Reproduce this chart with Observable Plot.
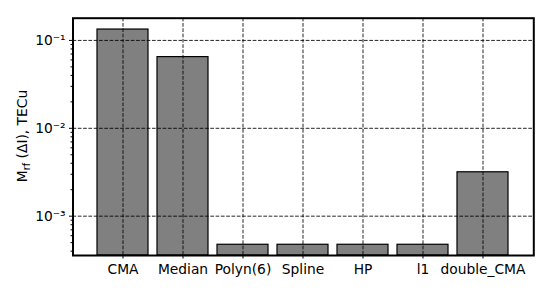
<!DOCTYPE html>
<html>
<head>
<meta charset="utf-8">
<script src="https://cdn.jsdelivr.net/npm/d3@7"></script>
<script src="https://cdn.jsdelivr.net/npm/@observablehq/plot@0.6"></script>
<style>
  html, body { margin: 0; padding: 0; background: #fff; }
  #chart { width: 550px; height: 292px; }
</style>
</head>
<body>
<div id="chart"></div>
<script>
const categories = ["CMA", "Median", "Polyn(6)", "Spline", "HP", "l1", "double_CMA"];
const values = [0.133, 0.0646, 0.000473, 0.000473, 0.000473, 0.000473, 0.00316];
const majorTicks = [1e-3, 1e-2, 1e-1];
const majorLabels = ["10\u207B\u00B3", "10\u207B\u00B2", "10\u207B\u00B9"];
const minorTicks = [4e-4, 5e-4, 6e-4, 7e-4, 8e-4, 9e-4,
  2e-3, 3e-3, 4e-3, 5e-3, 6e-3, 7e-3, 8e-3, 9e-3,
  2e-2, 3e-2, 4e-2, 5e-2, 6e-2, 7e-2, 8e-2, 9e-2];
const yDomain = [3.57e-4, 0.179];

const data = categories.map((c, i) => ({name: c, value: values[i]}));
const labelOf = new Map(majorTicks.map((t, i) => [t, majorLabels[i]]));

const W = 550, H = 292;
const svg = Plot.plot({
  width: W,
  height: H,
  marginLeft: 72.5,
  marginRight: 16.7,
  marginTop: 17.7,
  marginBottom: 37,
  style: {fontFamily: "DejaVu Sans", fontSize: "13.8px", color: "black", background: "white"},
  x: {type: "band", domain: categories, paddingInner: 0.15, paddingOuter: 0.354, label: null},
  y: {type: "log", domain: yDomain, label: null},
  marks: [
    Plot.barY(data, {x: "name", y1: yDomain[0], y2: "value", fill: "#808080", stroke: "black", strokeWidth: 1.2}),
    Plot.gridX({stroke: "black", strokeOpacity: 0.85, strokeWidth: 1, strokeDasharray: "3.7,1.6"}),
    Plot.gridY(majorTicks, {stroke: "black", strokeOpacity: 0.85, strokeWidth: 1, strokeDasharray: "3.7,1.6"}),
    Plot.axisX({tickSize: 3.5, tickPadding: 5, label: null, fontSize: "13.8px"}),
    Plot.axisY(majorTicks, {tickSize: 3.5, tickPadding: 4, label: null, tickFormat: (d) => labelOf.get(d), fontSize: "13.8px"}),
    Plot.axisY(minorTicks, {tickSize: 2, tickFormat: () => "", label: null}),
    Plot.frame({stroke: "black", strokeWidth: 2})
  ]
});

const label = d3.select(svg).append("text")
  .attr("transform", "translate(27,136) rotate(-90)")
  .attr("text-anchor", "middle")
  .attr("font-family", "DejaVu Sans")
  .attr("font-size", "13.8px")
  .attr("fill", "black");
label.append("tspan").text("M");
label.append("tspan").attr("font-size", "9.7px").attr("dy", "3").text("rf");
label.append("tspan").attr("dy", "-3").text(" (\u0394I), TECu");

document.getElementById("chart").appendChild(svg);
</script>
</body>
</html>
